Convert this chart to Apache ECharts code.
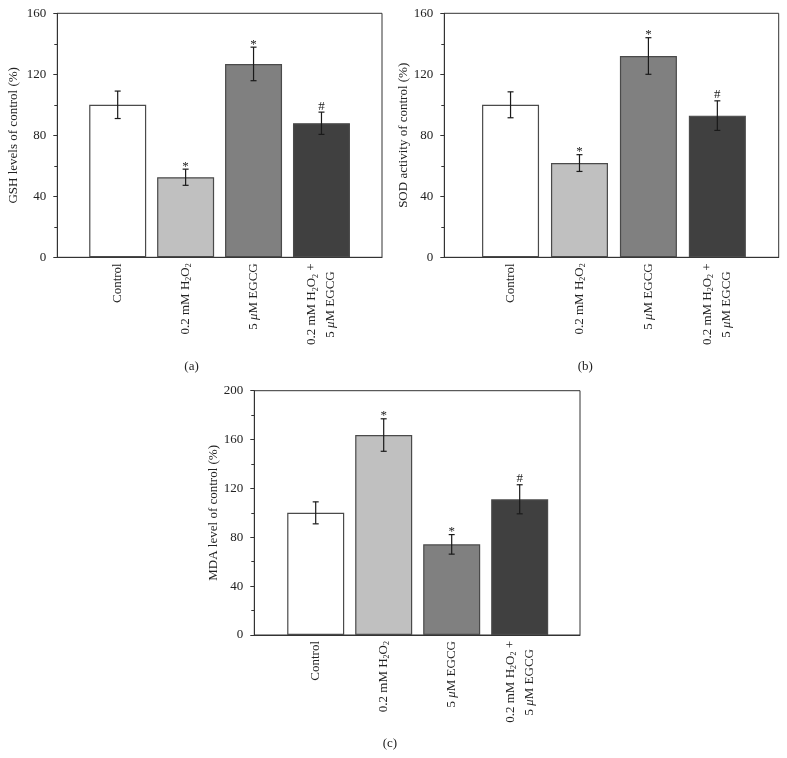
<!DOCTYPE html>
<html>
<head>
<meta charset="utf-8">
<script src="https://cdn.jsdelivr.net/npm/echarts@6/dist/echarts.min.js"></script>
<style>html,body{margin:0;padding:0;background:#fff;}#c{width:787px;height:758px;}</style>
</head>
<body>
<div id="c"></div>
<script>
// ---- data ----
const categories = ['Control', '0.2 mM H2O2', '5 μM EGCG', '0.2 mM H2O2 +\n5 μM EGCG'];
const gshMean = [100, 52.5, 126.8, 87.9];
const gshErr = [9, 5.3, 11, 7.3];
const gshMarks = ['', '*', '*', '#'];
const sodMean = [100, 61.8, 132, 92.9];
const sodErr = [8.5, 5.5, 12, 9.7];
const sodMarks = ['', '*', '*', '#'];
const mdaMean = [100, 163.7, 74.2, 111.1];
const mdaErr = [9, 13.3, 8, 11.9];
const mdaMarks = ['', '*', '*', '#'];
const gshTicks = [0, 40, 80, 120, 160];
const sodTicks = [0, 40, 80, 120, 160];
const mdaTicks = [0, 40, 80, 120, 160, 200];
const yNames = ['GSH levels of control (%)', 'SOD activity of control (%)', 'MDA level of control (%)'];
const captions = ['(a)', '(b)', '(c)'];

// ---- style ----
const FONT = '"Liberation Serif", "DejaVu Serif", serif';
const barColors = ['#ffffff', '#c0c0c0', '#808080', '#404040'];
const panels = [
  {grid: {left: 57.3, top: 13.3, width: 324.7, height: 244}, xMin: 0.111, xMax: 4.891, ticks: gshTicks, mean: gshMean, err: gshErr, marks: gshMarks, nameGap: 37, cap: [193.3, 368.3]},
  {grid: {left: 444.3, top: 13.3, width: 334.4, height: 244}, xMin: 0.039, xMax: 4.89, ticks: sodTicks, mean: sodMean, err: sodErr, marks: sodMarks, nameGap: 31, cap: [586.7, 368.3]},
  {grid: {left: 254.3, top: 390.7, width: 325.7, height: 244.3}, xMin: 0.097, xMax: 4.887, ticks: mdaTicks, mean: mdaMean, err: mdaErr, marks: mdaMarks, nameGap: 33, cap: [391.7, 745]}
];

function richLabel(s) {
  return s.split('\n').map((line, k) => {
    let t = line.replace(/H2O2/g, 'H{sub|2}O{sub|2}').replace(/μ/g, '{it|μ}');
    if (k > 0) t += '{pad|\u200a}';
    return t;
  }).join('\n');
}

const option = {
  animation: false,
  backgroundColor: '#fff',
  grid: [], xAxis: [], yAxis: [], series: [], graphic: []
};

panels.forEach((p, i) => {
  option.grid.push(Object.assign({show: true, borderColor: '#333', borderWidth: 1, backgroundColor: 'transparent'}, p.grid));
  option.xAxis.push({
    type: 'value', gridIndex: i, min: p.xMin, max: p.xMax,
    axisLine: {show: true, lineStyle: {color: '#333', width: 1}},
    axisTick: {show: false}, splitLine: {show: false},
    axisLabel: {
      rotate: 90, margin: 6, color: '#222', fontFamily: FONT, fontSize: 13, lineHeight: 19,
      formatter: v => {
        const r = Math.round(v);
        if (Math.abs(v - r) > 1e-6 || r < 1 || r > categories.length) return '';
        return richLabel(categories[r - 1]);
      },
      rich: {
        sub: {fontSize: 8, fontFamily: FONT, color: '#222', padding: [7, 0, 0, 0]},
        it: {fontStyle: 'italic', fontFamily: FONT, fontSize: 13, color: '#222'},
        pad: {width: 8, fontSize: 13, fontFamily: FONT}
      }
    }
  });
  const tk = p.ticks;
  option.yAxis.push({
    type: 'value', gridIndex: i, min: tk[0], max: tk[tk.length - 1], interval: tk[1] - tk[0],
    name: yNames[i], nameLocation: 'middle', nameGap: p.nameGap,
    nameTextStyle: {fontFamily: FONT, fontSize: 13, color: '#222'},
    axisLine: {show: true, lineStyle: {color: '#333', width: 1}},
    axisTick: {show: true, inside: false, length: 4, lineStyle: {color: '#333'}},
    minorTick: {show: true, splitNumber: 2, length: 3, lineStyle: {color: '#333'}},
    splitLine: {show: false}, minorSplitLine: {show: false},
    axisLabel: {margin: 11, fontFamily: FONT, fontSize: 13, color: '#222'}
  });
  option.series.push({
    type: 'bar', xAxisIndex: i, yAxisIndex: i, barWidth: 57,
    data: p.mean.map((v, k) => ({value: [k + 1, v], itemStyle: {color: barColors[k], borderColor: '#4a4a4a', borderWidth: 1.2}})),
    z: 2
  });
  option.series.push({
    type: 'custom', xAxisIndex: i, yAxisIndex: i, z: 5,
    data: p.mean.map((v, k) => [k + 1, v - p.err[k], v + p.err[k]]),
    renderItem: (params, api) => {
      const x = api.value(0);
      const lo = api.coord([x, api.value(1)]);
      const hi = api.coord([x, api.value(2)]);
      const cw = 3;
      const st = {stroke: '#1a1a1a', lineWidth: 1.2};
      const mark = p.marks[params.dataIndex];
      const children = [
        {type: 'line', shape: {x1: lo[0], y1: lo[1], x2: hi[0], y2: hi[1]}, style: st},
        {type: 'line', shape: {x1: hi[0] - cw, y1: hi[1], x2: hi[0] + cw, y2: hi[1]}, style: st},
        {type: 'line', shape: {x1: lo[0] - cw, y1: lo[1], x2: lo[0] + cw, y2: lo[1]}, style: st}
      ];
      if (mark) {
        children.push({type: 'text', style: {
          text: mark, x: hi[0], y: hi[1] - (mark === '*' ? 3 : 6),
          align: 'center', verticalAlign: 'middle',
          font: '13px ' + FONT, fill: '#222'
        }});
      }
      return {type: 'group', children};
    }
  });
  option.graphic.push({
    type: 'text', left: p.cap[0] - 9, top: p.cap[1] - 8,
    style: {text: captions[i], font: '13px ' + FONT, fill: '#222'}
  });
});

const chart = echarts.init(document.getElementById('c'), null, {renderer: 'canvas'});
chart.setOption(option);
</script>
</body>
</html>
